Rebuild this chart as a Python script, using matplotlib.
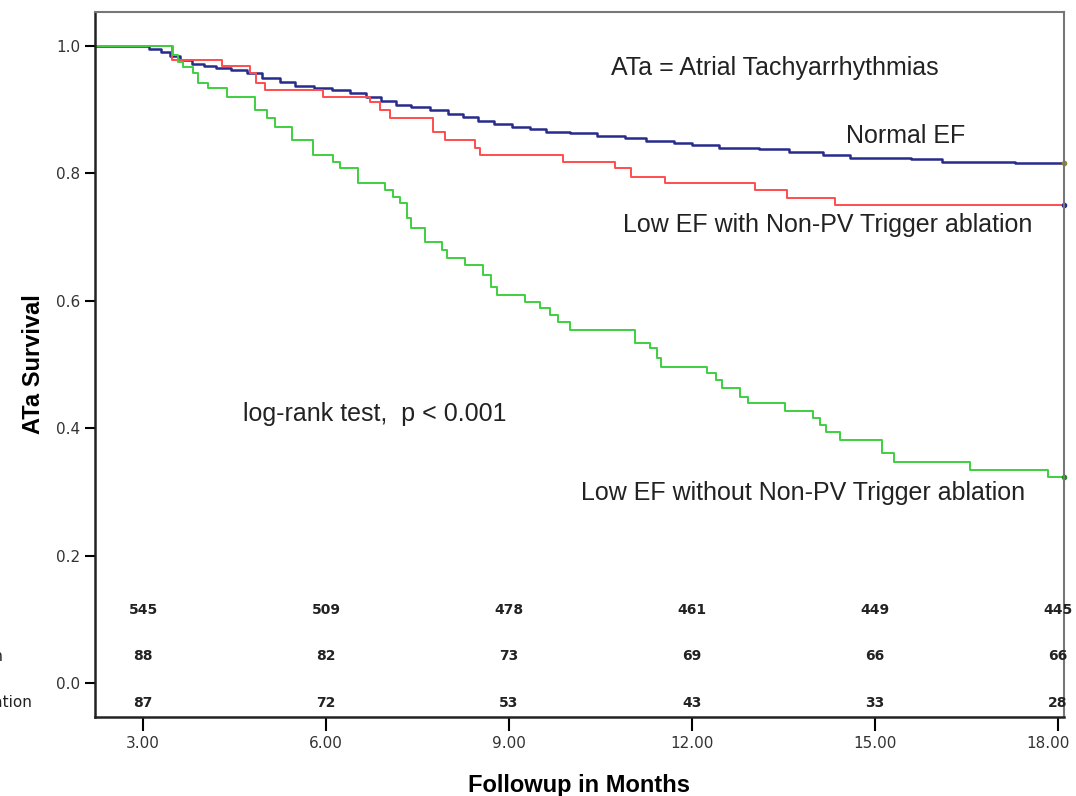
import matplotlib.pyplot as plt
import matplotlib.transforms as mtransforms

plt.rcParams['font.family'] = ['Liberation Sans', 'DejaVu Sans']

# Kaplan-Meier step points (months, survival)
normal_t = [2.0, 3.1, 3.3, 3.45, 3.6, 3.8, 4.0, 4.2, 4.45, 4.7, 4.95, 5.25, 5.5, 5.8,
            6.1, 6.4, 6.65, 6.9, 7.15, 7.4, 7.7, 8.0, 8.25, 8.5, 8.75, 9.05, 9.35,
            9.6, 10.0, 10.45, 10.9, 11.25, 11.7, 12.0, 12.45, 13.1, 13.6, 14.15,
            14.6, 15.6, 16.1, 17.3, 18.1]
normal_s = [1.0, 0.995, 0.99, 0.985, 0.978, 0.972, 0.968, 0.965, 0.962, 0.957, 0.95,
            0.943, 0.938, 0.934, 0.931, 0.926, 0.92, 0.913, 0.908, 0.904, 0.9, 0.893,
            0.889, 0.883, 0.878, 0.873, 0.869, 0.865, 0.863, 0.859, 0.855, 0.851,
            0.847, 0.844, 0.84, 0.839, 0.834, 0.829, 0.824, 0.822, 0.818, 0.816, 0.816]

with_t = [2.0, 3.48, 4.3, 4.75, 4.85, 5.0, 5.95, 6.72, 6.88, 7.05, 7.75, 7.95, 8.44,
          8.52, 9.89, 10.74, 11.0, 11.56, 13.03, 13.56, 14.34, 18.1]
with_s = [1.0, 0.978, 0.969, 0.958, 0.942, 0.931, 0.92, 0.912, 0.9, 0.887, 0.865,
          0.852, 0.84, 0.829, 0.818, 0.808, 0.794, 0.785, 0.774, 0.761, 0.75, 0.75]

without_t = [2.0, 3.49, 3.57, 3.66, 3.82, 3.9, 4.07, 4.38, 4.84, 5.03, 5.16, 5.44, 5.79,
             6.11, 6.23, 6.52, 6.97, 7.1, 7.21, 7.33, 7.4, 7.62, 7.9, 7.98, 8.28, 8.57,
             8.7, 8.8, 9.26, 9.51, 9.67, 9.8, 10.0, 11.07, 11.31, 11.43, 11.5, 12.25,
             12.4, 12.49, 12.79, 12.92, 13.52, 13.98, 14.1, 14.2, 14.42, 15.11, 15.32,
             16.56, 17.84, 18.1]
without_s = [1.0, 0.986, 0.975, 0.967, 0.958, 0.942, 0.934, 0.92, 0.9, 0.887, 0.873,
             0.852, 0.829, 0.818, 0.808, 0.785, 0.774, 0.763, 0.754, 0.73, 0.714, 0.692,
             0.68, 0.667, 0.656, 0.64, 0.622, 0.609, 0.598, 0.589, 0.578, 0.566, 0.554,
             0.534, 0.526, 0.51, 0.496, 0.487, 0.475, 0.463, 0.449, 0.44, 0.427, 0.416,
             0.405, 0.394, 0.381, 0.361, 0.347, 0.334, 0.323, 0.323]

# numbers at risk
risk_months = [3, 6, 9, 12, 15, 18]
risk_normal = [545, 509, 478, 461, 449, 445]
risk_with = [88, 82, 73, 69, 66, 66]
risk_without = [87, 72, 53, 43, 33, 28]
group_names = ['Normal EF', 'Low EF with Non-PV Trigger ablation',
               'Low EF without Non-PV Trigger ablation']

fig = plt.figure(figsize=(10.76, 7.96), dpi=100)
ax = fig.add_axes([0.0883, 0.0992, 0.9005, 0.8857])

ax.step(normal_t, normal_s, where='post', color='#262b8c', lw=1.8)
ax.step(with_t, with_s, where='post', color='#ff4d4d', lw=1.4)
ax.step(without_t, without_s, where='post', color='#3fcf3f', lw=1.4)
# censor marks at the end
ax.plot([normal_t[-1]], [normal_s[-1]], 'o', color='#8a8a30', ms=3, clip_on=False)
ax.plot([with_t[-1]], [with_s[-1]], 'o', color='#262b8c', ms=3, clip_on=False)
ax.plot([without_t[-1]], [without_s[-1]], 'o', color='#1f8a1f', ms=3, clip_on=False)

ax.set_xlim(2.213, 18.1)
ax.set_ylim(-0.0534, 1.0534)
ax.set_xticks(risk_months)
ax.set_xticklabels([f'{m:.2f}' for m in risk_months])
ax.set_yticks([0.0, 0.2, 0.4, 0.6, 0.8, 1.0])
ax.set_yticklabels(['0.0', '0.2', '0.4', '0.6', '0.8', '1.0'])
ax.tick_params(axis='y', direction='out', length=7, width=1.5, labelsize=11,
               labelcolor='#333333')
ax.tick_params(axis='x', direction='out', length=10, width=1.5, labelsize=11,
               labelcolor='#333333', pad=4)
for lab in ax.get_xticklabels() + ax.get_yticklabels():
    lab.set_family('DejaVu Sans')
# keep the last x label inside the image
last = ax.get_xticklabels()[-1]
last.set_transform(last.get_transform() +
                   mtransforms.ScaledTranslation(-10 / 100, 0, fig.dpi_scale_trans))

for side in ['left', 'bottom']:
    ax.spines[side].set_linewidth(1.8)
    ax.spines[side].set_color('#222222')
for side in ['top', 'right']:
    ax.spines[side].set_linewidth(1.5)
    ax.spines[side].set_color('#777777')

ax.set_xlabel('Followup in Months', fontsize=17, fontweight='bold', labelpad=16)
ax.set_ylabel('ATa Survival', fontsize=17, fontweight='bold', labelpad=8)

ax.text(13.36, 0.965, 'ATa = Atrial Tachyarrhythmias', fontsize=18, ha='center',
        va='center', color='#222222')
ax.text(15.5, 0.859, 'Normal EF', fontsize=18, ha='center', va='center', color='#222222')
ax.text(14.23, 0.719, 'Low EF with Non-PV Trigger ablation', fontsize=18, ha='center',
        va='center', color='#222222')
ax.text(13.82, 0.298, 'Low EF without Non-PV Trigger ablation', fontsize=18,
        ha='center', va='center', color='#222222')
ax.text(6.8, 0.422, 'log-rank test,  p < 0.001', fontsize=18, ha='center',
        va='center', color='#222222')

row_y = [0.115, 0.0424, -0.031]
for vals, yy in zip([risk_normal, risk_with, risk_without], row_y):
    for m, v in zip(risk_months, vals):
        ax.text(m, yy, str(v), fontsize=10, fontweight='bold', family='DejaVu Sans',
                ha='center', va='center', color='#222222')

# row labels, mostly cut off by the left edge of the image
row_end_px = [-26, 3, 32]
fig.canvas.draw()
for name, yy, xe in zip(group_names, row_y, row_end_px):
    fig.text(xe / 1076, ax.transData.transform((0, yy))[1] / 796, name,
             fontsize=11, ha='right', va='center', color='#222222', family='DejaVu Sans')

fig.savefig('out.png', dpi=100)
